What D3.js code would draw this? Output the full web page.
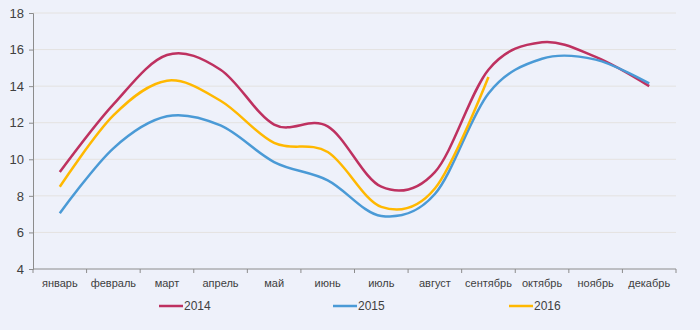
<!DOCTYPE html>
<html>
<head>
<meta charset="utf-8">
<script src="https://cdn.jsdelivr.net/npm/d3@7"></script>
<style>
  html, body { margin: 0; padding: 0; background: #EEF1FA; }
  svg { display: block; font-family: "Liberation Sans", Arial, sans-serif; }
</style>
</head>
<body>
<svg id="chart" width="700" height="330"></svg>
<script>
// Monthly values by year
const months = ["январь", "февраль", "март", "апрель", "май", "июнь",
                "июль", "август", "сентябрь", "октябрь", "ноябрь", "декабрь"];
const years = ["2014", "2015", "2016"];
const values2014 = [9.3, 13.0, 15.7, 14.9, 11.9, 11.8, 8.5, 9.3, 14.9, 16.4, 15.6, 14.0];
const values2015 = [7.05, 10.6, 12.35, 11.85, 9.85, 8.85, 6.9, 8.1, 13.6, 15.5, 15.45, 14.15];
const values2016 = [8.5, 12.4, 14.3, 13.2, 10.9, 10.4, 7.4, 8.4, 14.5];
const yTicks = [4, 6, 8, 10, 12, 14, 16, 18];
const colors = ["#BE3160", "#4A9AD6", "#FFB800"];

const seriesList = [values2014, values2015, values2016].map((v, i) => ({
  name: years[i], color: colors[i], values: v
}));

const svg = d3.select("#chart");
const margin = { left: 33, right: 24, top: 13, bottom: 61 };
const W = 700, H = 330;

const x = d3.scaleBand().domain(months)
  .range([margin.left, W - margin.right]).paddingInner(0).paddingOuter(0);
const y = d3.scaleLinear().domain([4, 18]).range([H - margin.bottom, margin.top]);

// Horizontal gridlines
svg.append("g").selectAll("line").data(yTicks.filter(t => t > 4)).join("line")
  .attr("x1", margin.left).attr("x2", W - margin.right)
  .attr("y1", d => y(d)).attr("y2", d => y(d))
  .attr("stroke", "#E4E2E0").attr("stroke-width", 1);

// Y axis
const yAxis = svg.append("g").attr("transform", `translate(${margin.left},0)`)
  .call(d3.axisLeft(y).tickValues(yTicks).tickSize(4).tickPadding(5).tickFormat(d3.format("d")));
yAxis.select(".domain").attr("stroke", "#8C8C8C");
yAxis.selectAll(".tick line").attr("stroke", "#8C8C8C");
yAxis.selectAll(".tick text").attr("font-size", 13).attr("fill", "#404040")
  .attr("font-family", "Liberation Sans, Arial, sans-serif");

// X axis with tick marks at category boundaries
const xAxisG = svg.append("g").attr("transform", `translate(0,${y(4)})`);
xAxisG.append("line").attr("x1", margin.left).attr("x2", W - margin.right)
  .attr("stroke", "#8C8C8C");
const bounds = months.map(m => x(m)).concat([x(months[months.length - 1]) + x.bandwidth()]);
xAxisG.selectAll("line.tk").data(bounds).join("line").attr("class", "tk")
  .attr("x1", d => d).attr("x2", d => d).attr("y1", 0).attr("y2", 4)
  .attr("stroke", "#8C8C8C");
xAxisG.selectAll("text").data(months).join("text")
  .attr("x", d => x(d) + x.bandwidth() / 2).attr("y", 18)
  .attr("text-anchor", "middle").attr("font-size", 11).attr("fill", "#404040")
  .text(d => d);

// Smoothed lines
const line = d3.line()
  .x((d, i) => x(months[i]) + x.bandwidth() / 2)
  .y(d => y(d))
  .curve(d3.curveCardinal.tension(0));

svg.append("g").selectAll("path").data(seriesList).join("path")
  .attr("d", d => line(d.values))
  .attr("fill", "none").attr("stroke", d => d.color)
  .attr("stroke-width", 2.5).attr("stroke-linejoin", "round");

// Legend
const legendX = [159, 333, 509];
const legend = svg.append("g").attr("transform", `translate(0,306)`);
seriesList.forEach((s, i) => {
  legend.append("line").attr("x1", legendX[i]).attr("x2", legendX[i] + 24)
    .attr("y1", 0).attr("y2", 0).attr("stroke", s.color).attr("stroke-width", 2.5);
  legend.append("text").attr("x", legendX[i] + 25).attr("y", 4)
    .attr("font-size", 12).attr("fill", "#404040").text(s.name);
});
</script>
</body>
</html>
